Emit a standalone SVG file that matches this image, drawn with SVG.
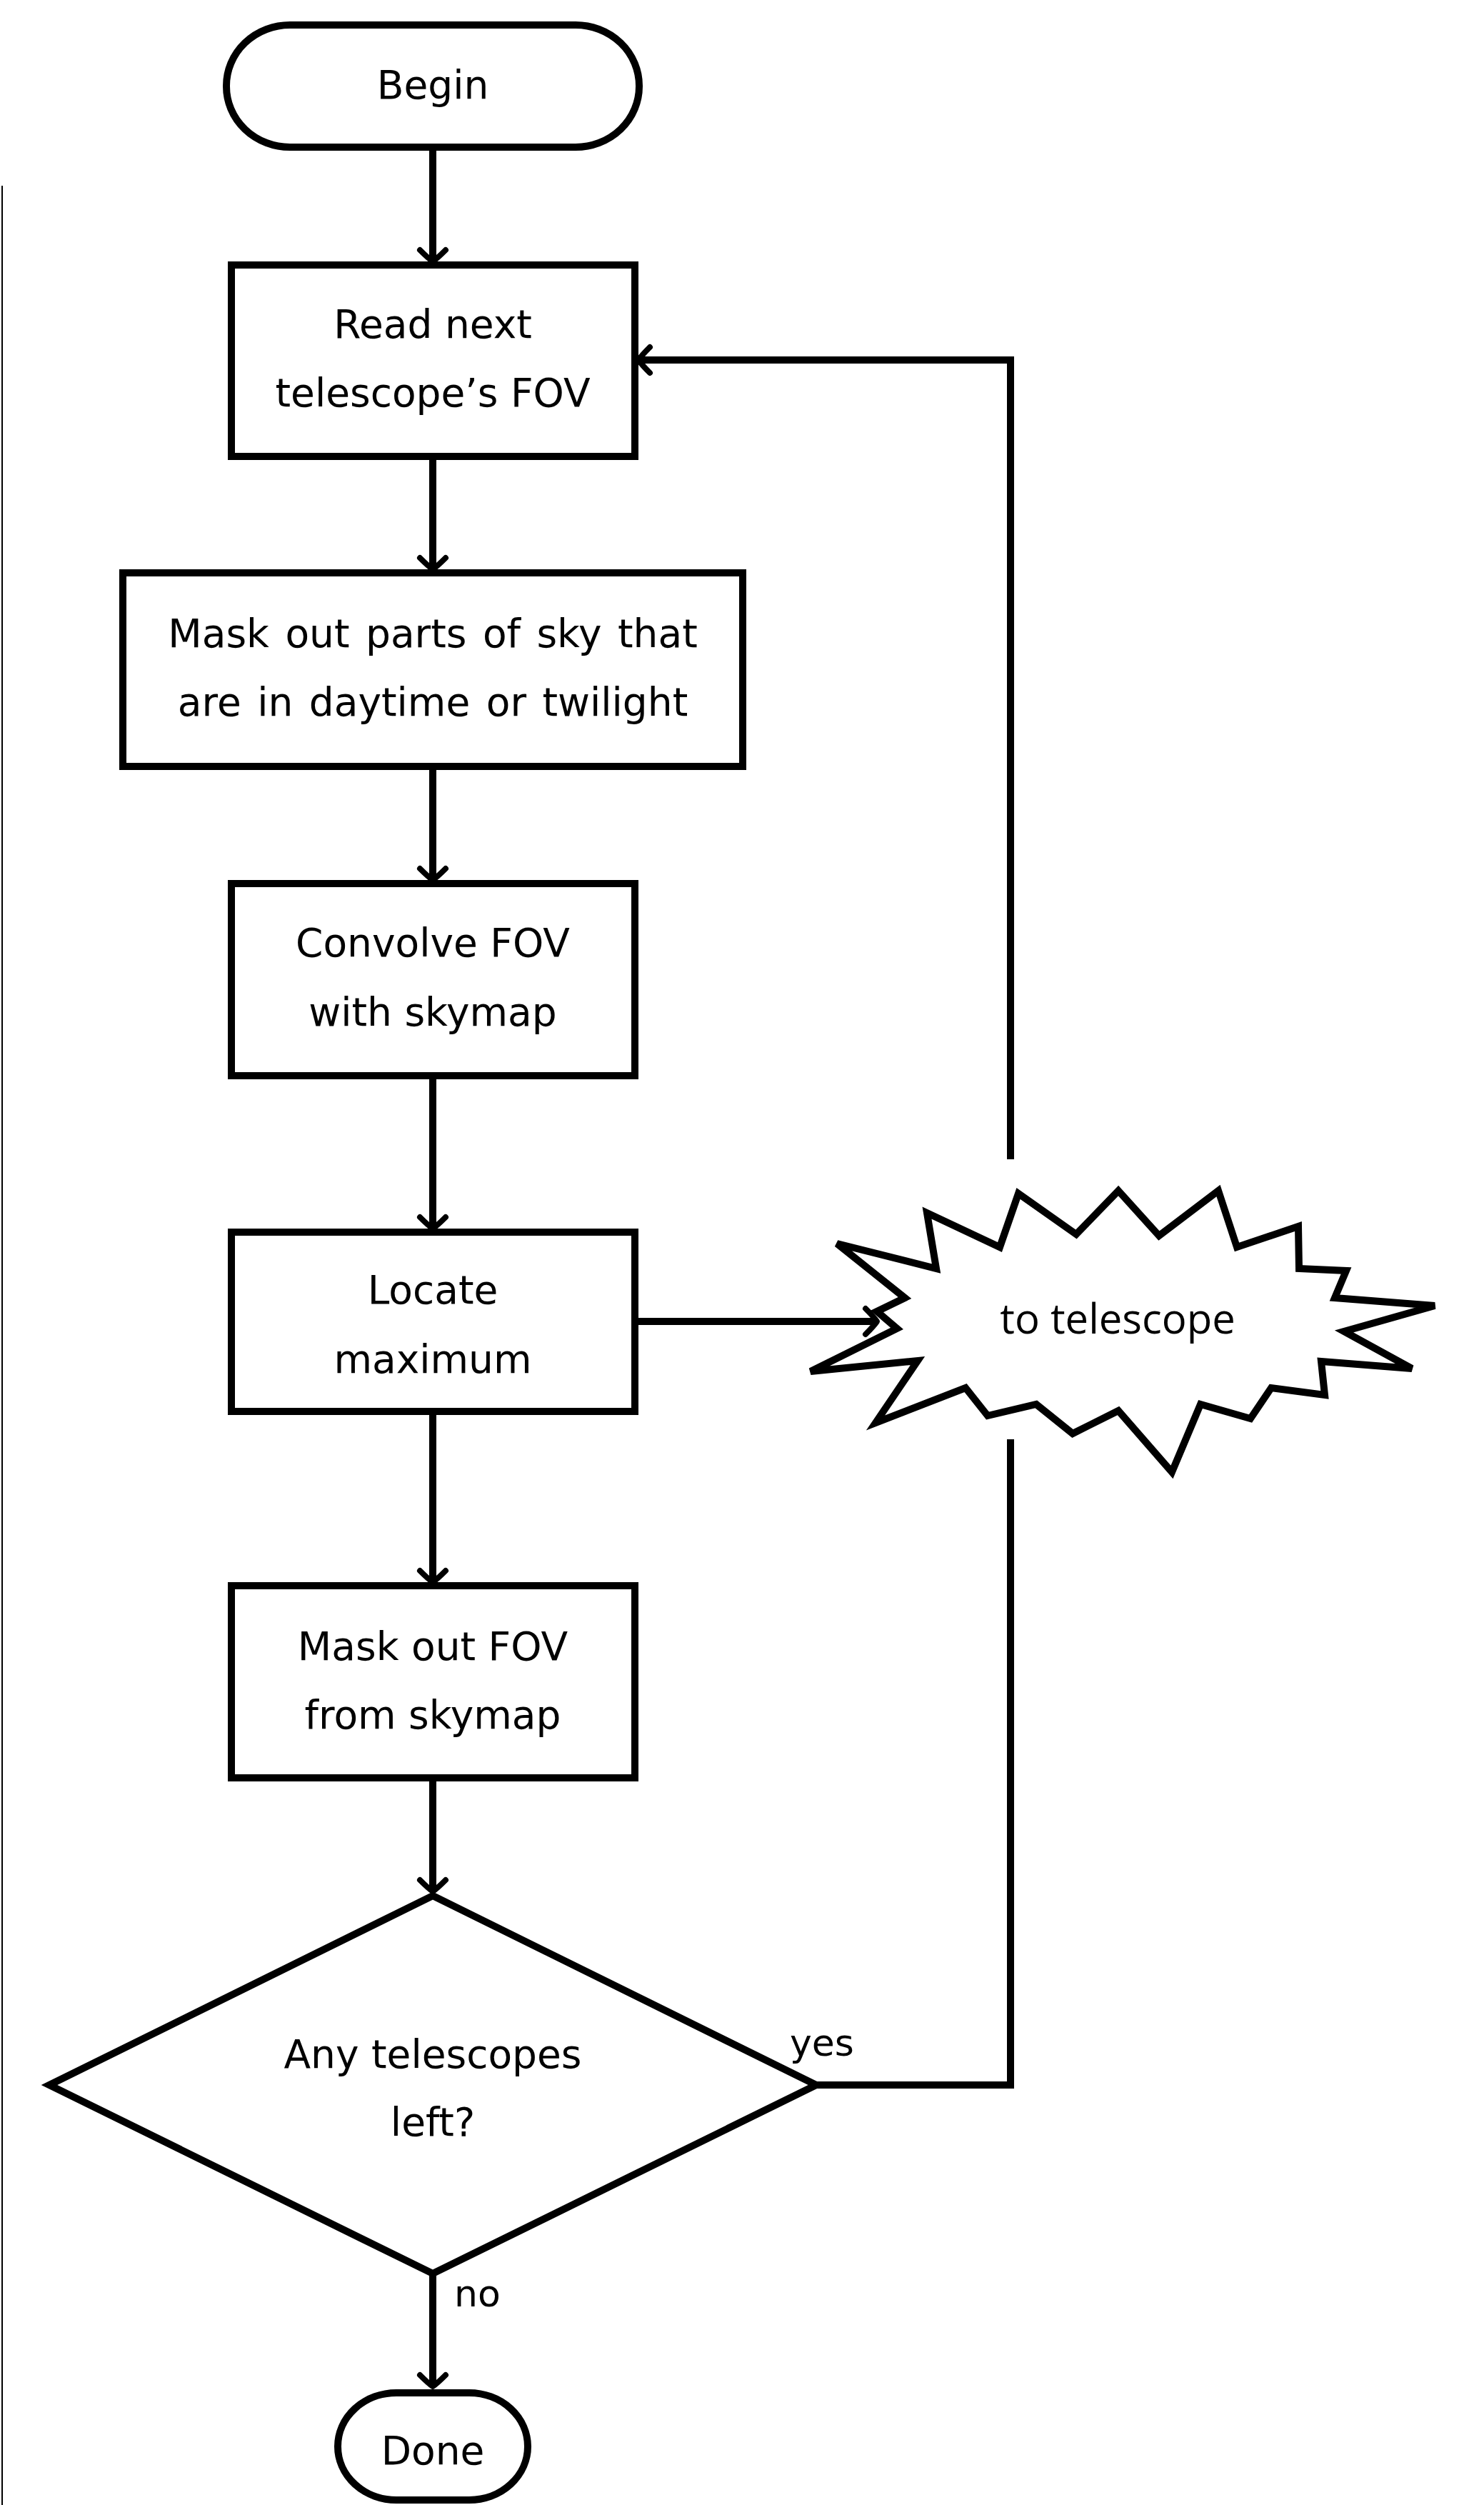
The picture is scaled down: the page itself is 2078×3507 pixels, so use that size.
<svg xmlns="http://www.w3.org/2000/svg" width="2078" height="3507" viewBox="0 0 2078 3507">
<style>
.shape{fill:#fff;stroke:#000;stroke-width:10;stroke-linejoin:miter}
.t{font-family:"DejaVu Sans",sans-serif;font-size:55px;fill:#000;text-anchor:middle}
.lbl{font-family:"DejaVu Sans",sans-serif;font-size:52px;fill:#000}
.st{font-family:"Open Sans","Noto Sans",sans-serif;font-size:58px;fill:#000;text-anchor:middle}
.c{fill:none;stroke:#000;stroke-width:10}
</style>
<defs>
<marker id="arr" markerUnits="userSpaceOnUse" viewBox="-30 -30 60 60" markerWidth="60" markerHeight="60" refX="0" refY="0" orient="auto" overflow="visible">
<path d="M-11,-18 Q1,-6 5,0 Q1,6 -11,18" fill="none" stroke="#000" stroke-width="8" stroke-linecap="round" stroke-linejoin="round"/>
</marker>
</defs>
<rect width="2078" height="3507" fill="#fff"/>
<line x1="3" y1="260" x2="3" y2="3507" stroke="#000" stroke-width="2"/>

<g id="begin">
<rect class="shape" x="317" y="35" width="578" height="171" rx="89" ry="85"/>
<text class="t" x="606" y="138">Begin</text>
</g>
<g id="read">
<rect class="shape" x="324" y="371" width="565" height="268"/>
<text class="t" x="606" y="473">Read next</text>
<text class="t" x="606" y="569">telescope’s FOV</text>
</g>
<g id="maskparts">
<rect class="shape" x="172" y="802" width="868" height="271"/>
<text class="t" x="606" y="906" word-spacing="5">Mask out parts of sky that</text>
<text class="t" x="606" y="1002" word-spacing="5">are in daytime or twilight</text>
</g>
<g id="convolve">
<rect class="shape" x="324" y="1237" width="565" height="269"/>
<text class="t" x="606" y="1339">Convolve FOV</text>
<text class="t" x="606" y="1436">with skymap</text>
</g>
<g id="locate">
<rect class="shape" x="324" y="1725" width="565" height="251"/>
<text class="t" x="606" y="1825">Locate</text>
<text class="t" x="606" y="1922">maximum</text>
</g>
<g id="maskfov">
<rect class="shape" x="324" y="2220" width="565" height="269"/>
<text class="t" x="606" y="2324">Mask out FOV</text>
<text class="t" x="606" y="2420">from skymap</text>
</g>
<g id="decision">
<polygon class="shape" points="606,2654 1143,2919 606,3183 69,2919"/>
<text class="t" x="606" y="2895">Any telescopes</text>
<text class="t" x="606" y="2990">left?</text>
</g>
<g id="done">
<rect class="shape" x="473" y="3350" width="266" height="150" rx="82" ry="75"/>
<text class="t" x="606" y="3450">Done</text>
</g>
<g id="totelescope">
<polygon class="shape" stroke-width="9" points="1172,1741 1311,1776 1298,1698 1400,1746 1426,1671 1507,1728 1566,1667 1623,1730 1706,1667 1732,1746 1818,1717 1819,1776 1885,1779 1869,1817 2009,1828 1882,1864 1977,1916 1850,1906 1855,1953 1780,1943 1751,1986 1681,1966 1641,2061 1566,1975 1502,2007 1451,1966 1383,1982 1352,1943 1226,1992 1285,1905 1135,1920 1256,1860 1228,1836 1267,1817"/>
<text class="st" x="1565" y="1867">to telescope</text>
</g>

<g id="connectors">
<path class="c" d="M606,206 V361" marker-end="url(#arr)"/>
<path class="c" d="M606,639 V792" marker-end="url(#arr)"/>
<path class="c" d="M606,1073 V1227" marker-end="url(#arr)"/>
<path class="c" d="M606,1506 V1715" marker-end="url(#arr)"/>
<path class="c" d="M606,1976 V2210" marker-end="url(#arr)"/>
<path class="c" d="M606,2489 V2643" marker-end="url(#arr)"/>
<path class="c" d="M606,3183 V3336" marker-end="url(#arr)"/>
<path class="c" d="M1143,2919 H1415 V2015"/>
<path class="c" d="M1415,1623 V504 H899" marker-end="url(#arr)"/>
<path class="c" d="M889,1850 H1223" marker-end="url(#arr)"/>
<text class="lbl" x="1106" y="2878">yes</text>
<text class="lbl" x="636" y="3229">no</text>
</g>
</svg>
